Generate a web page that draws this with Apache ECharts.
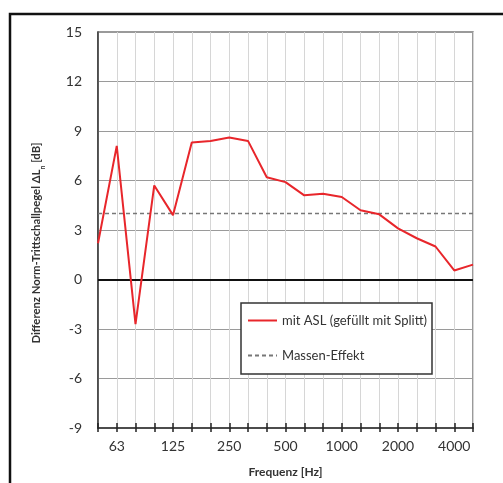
<!DOCTYPE html>
<html>
<head>
<meta charset="utf-8">
<script src="https://cdn.jsdelivr.net/npm/echarts@6/dist/echarts.min.js"></script>
<style>
  html, body { margin: 0; padding: 0; background: #fff; }
  #chart { width: 503px; height: 483px; }
</style>
</head>
<body>
<div id="chart"></div>
<script>
// Third-octave band centre frequencies [Hz]
const frequencies = ['50', '63', '80', '100', '125', '160', '200', '250', '315', '400', '500',
  '630', '800', '1000', '1250', '1600', '2000', '2500', '3150', '4000', '5000'];

// Difference of normalised impact sound level, ASL filled with chippings [dB]
const mitASL = [2.2, 8.1, -2.7, 5.7, 3.9, 8.3, 8.4, 8.6, 8.4, 6.2, 5.9,
  5.1, 5.2, 5.0, 4.2, 3.95, 3.1, 2.5, 2.0, 0.55, 0.9];

// Mass effect reference level [dB]
const massenEffekt = 4.0;

// Y-axis ticks
const yMin = -9, yMax = 15, yStep = 3;

const FONT = 'Lato, "Open Sans", sans-serif';

const chart = echarts.init(document.getElementById('chart'), null, { renderer: 'canvas' });

const tickStyle = { color: '#222', width: 1.5 };

const option = {
  animation: false,
  backgroundColor: '#fff',
  textStyle: { fontFamily: FONT },
  grid: { left: 98, top: 32, right: 30, bottom: 55, containLabel: false,
          show: true, borderColor: '#7a7a7a', borderWidth: 1.5 },
  graphic: [
    // outer frame
    { type: 'rect', shape: { x: 10, y: 14, width: 700, height: 700 },
      style: { fill: 'none', stroke: '#111', lineWidth: 2.5 }, z: 10 },
    // legend box
    { type: 'rect', shape: { x: 241, y: 303, width: 191, height: 71 },
      style: { fill: '#fff', stroke: '#333', lineWidth: 1.5 }, z: 3 }
  ],
  legend: {
    orient: 'vertical',
    left: 241, top: 303,
    padding: [11, 6, 8, 6],
    itemWidth: 29, itemHeight: 14, itemGap: 22,
    z: 5,
    itemStyle: { opacity: 0 },
    textStyle: { fontFamily: FONT, fontSize: 13, color: '#333' },
    data: ['mit ASL (gefüllt mit Splitt)', 'Massen-Effekt']
  },
  xAxis: [
    {
      type: 'category', data: frequencies, boundaryGap: false, position: 'bottom',
      name: 'Frequenz [Hz]', nameLocation: 'middle', nameGap: 38,
      nameTextStyle: { fontFamily: FONT, fontSize: 12, fontWeight: 'bold', color: '#333' },
      axisLine: { show: true, onZero: false, lineStyle: { color: '#333', width: 1.5 } },
      axisTick: { show: true, interval: 0, length: 4, lineStyle: tickStyle },
      axisLabel: { interval: (i) => i % 3 === 1, fontSize: 14, color: '#333', margin: 11, fontFamily: FONT },
      splitLine: { show: true, interval: 0, lineStyle: { color: '#d6d6d6', width: 1 } }
    },
    {
      // inward half of the crossing tick marks
      type: 'category', data: frequencies, boundaryGap: false, position: 'bottom',
      axisLine: { show: false, onZero: false },
      axisTick: { show: true, inside: true, interval: 0, length: 5, lineStyle: tickStyle },
      axisLabel: { show: false },
      splitLine: { show: false }
    }
  ],
  yAxis: {
    type: 'value', min: yMin, max: yMax, interval: yStep,
    name: 'Differenz Norm-Trittschallpegel ΔL{sub|n} [dB]',
    nameLocation: 'middle', nameGap: 56, nameRotate: 90,
    nameTextStyle: {
      fontFamily: FONT, fontSize: 11.3, fontWeight: 'bold', color: '#333',
      padding: [0, 26, 0, 0],
      rich: { sub: { fontSize: 7, fontWeight: 'bold', verticalAlign: 'bottom', padding: [0, 0, -4, 0], color: '#333' } }
    },
    axisLine: { show: true, lineStyle: { color: '#333', width: 1.5 } },
    axisTick: { show: false },
    axisLabel: { fontSize: 14, color: '#333', margin: 16, fontFamily: FONT },
    splitLine: { show: true, lineStyle: { color: '#9a9a9a', width: 1.2 } }
  },
  series: [
    {
      name: 'mit ASL (gefüllt mit Splitt)',
      type: 'line', data: mitASL, symbol: 'none', z: 6,
      lineStyle: { color: '#e8262b', width: 2 },
      itemStyle: { color: '#e8262b' },
      markLine: {
        silent: true, symbol: 'none', label: { show: false },
        lineStyle: { color: '#111', width: 2, type: 'solid' },
        data: [{ yAxis: 0 }]
      }
    },
    {
      name: 'Massen-Effekt',
      type: 'line', symbol: 'none', z: 5,
      data: [[frequencies[0], massenEffekt], [frequencies[frequencies.length - 1], massenEffekt]],
      lineStyle: { color: '#777', width: 1.3, type: [4, 3] },
      itemStyle: { color: '#777' }
    }
  ]
};

chart.setOption(option);
</script>
</body>
</html>
